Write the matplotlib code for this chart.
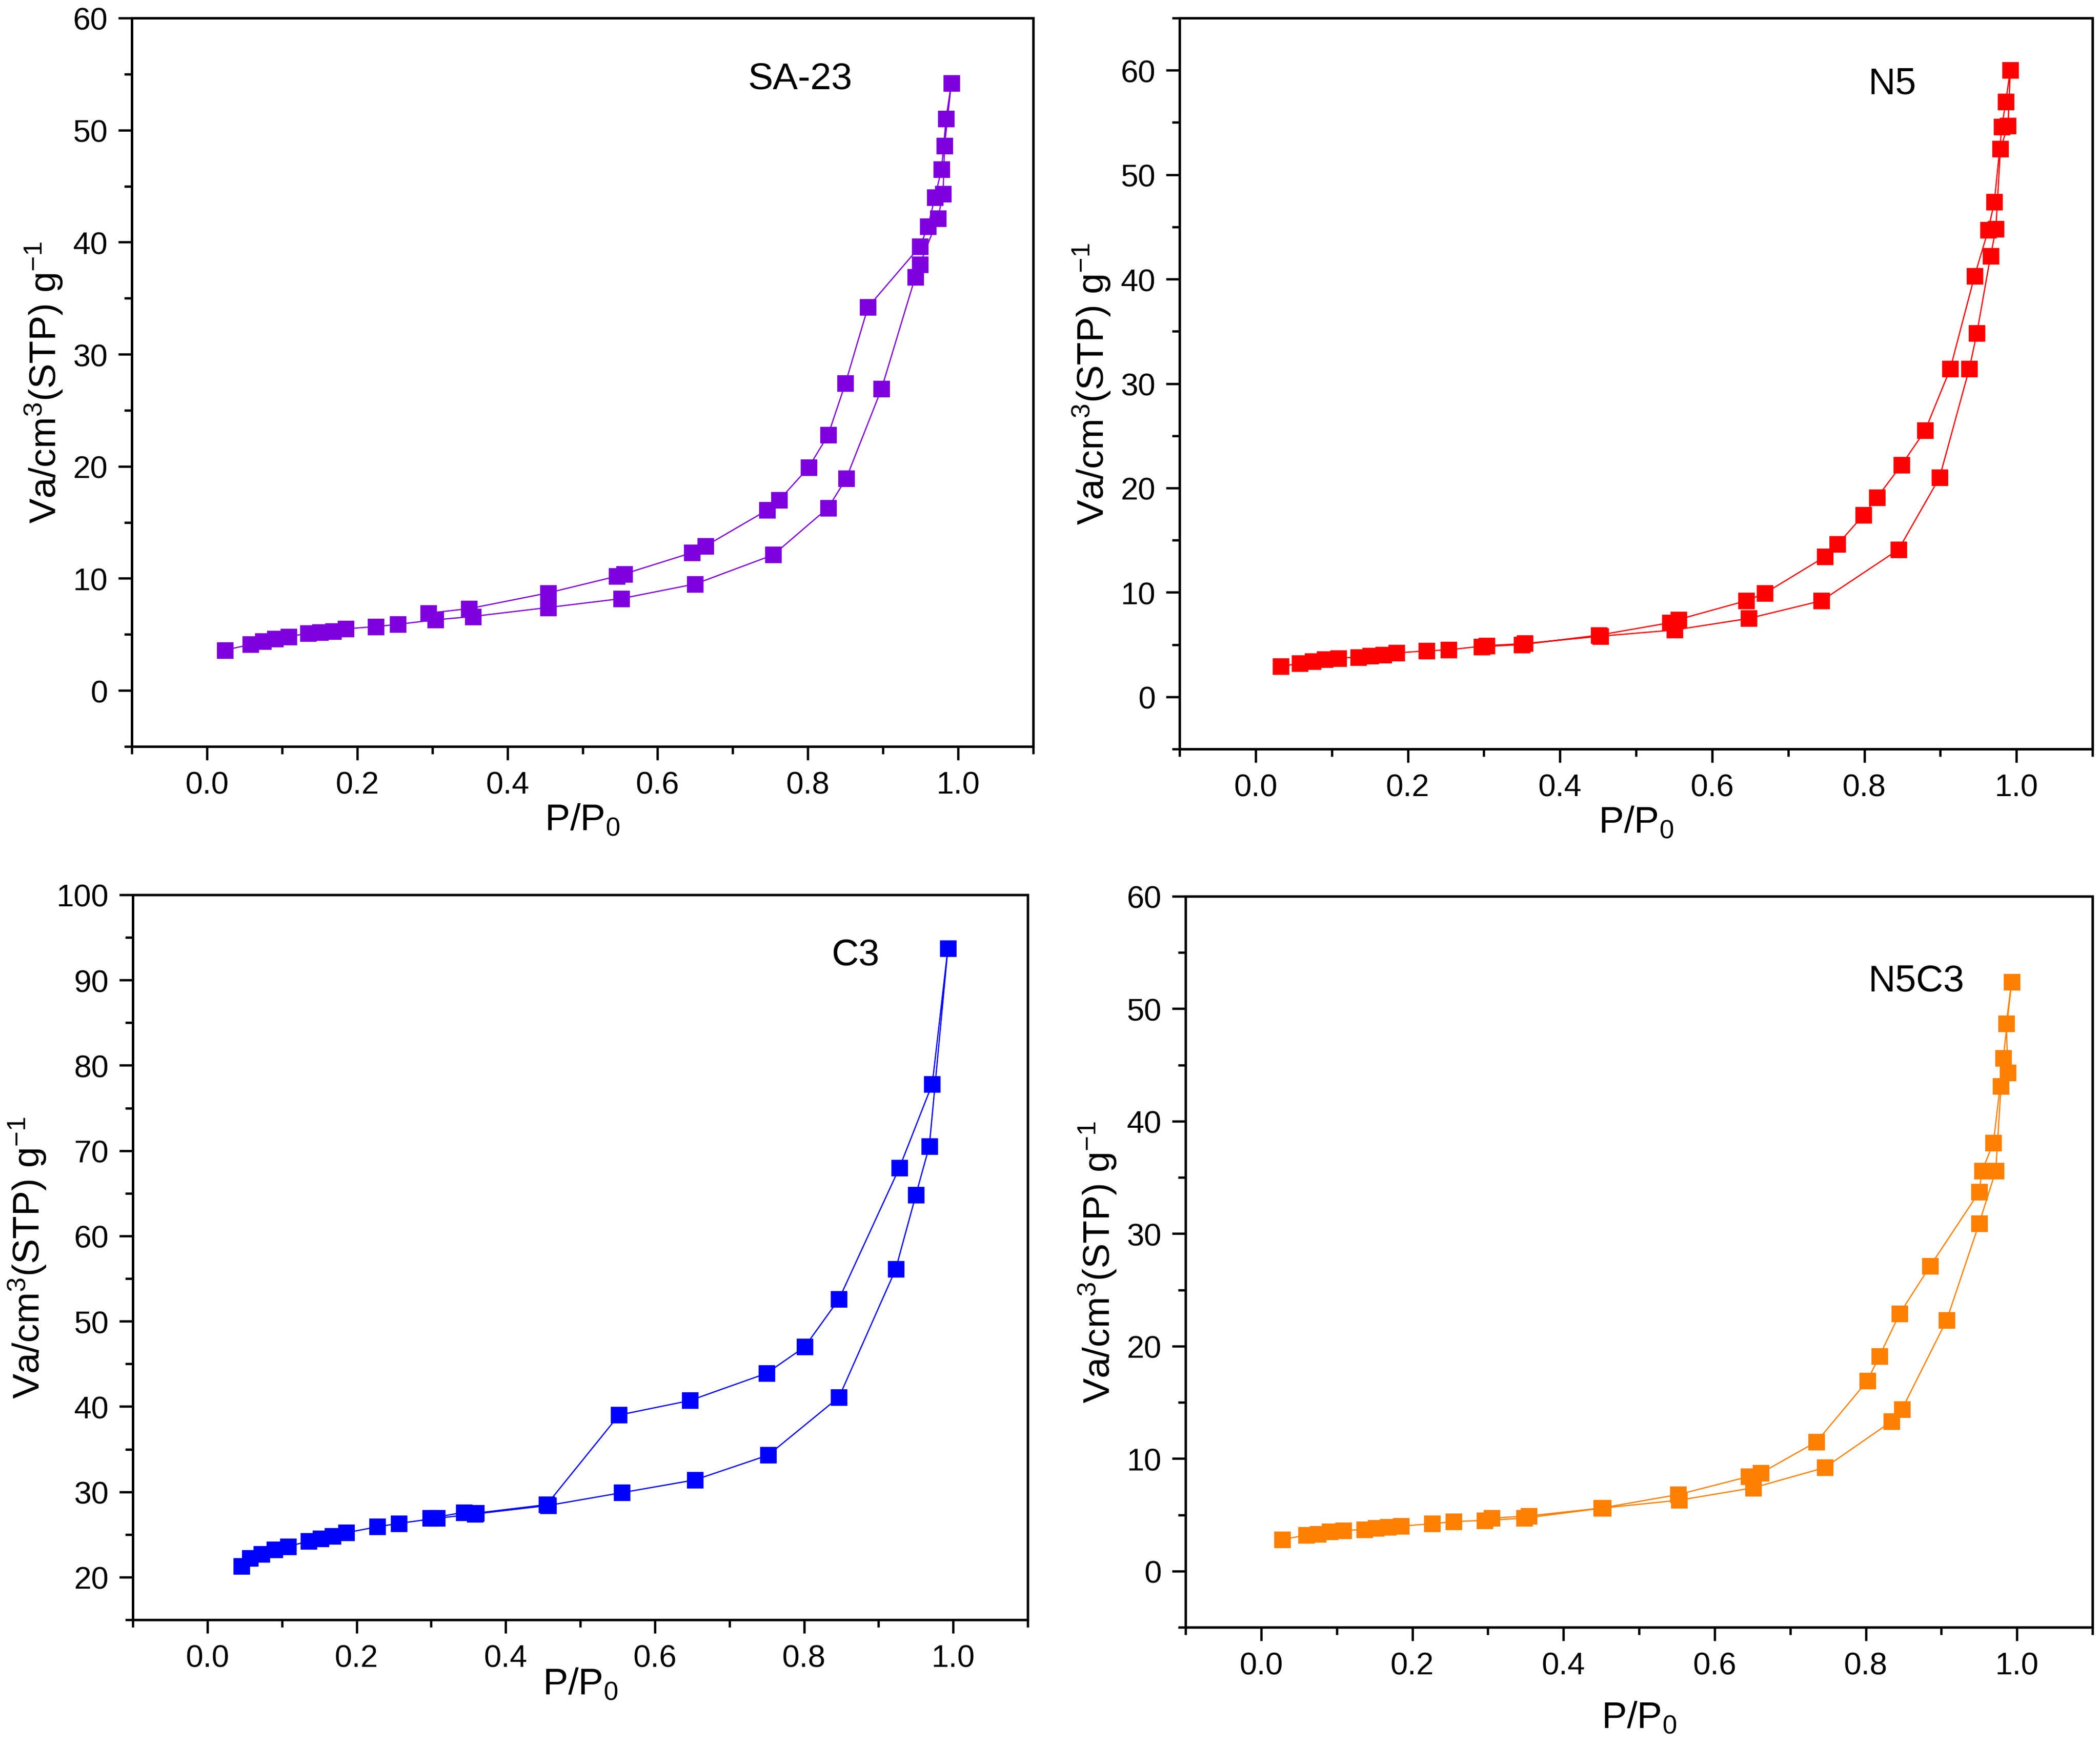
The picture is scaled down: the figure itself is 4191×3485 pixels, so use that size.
import matplotlib
matplotlib.use('Agg')
import matplotlib.pyplot as plt
from matplotlib.ticker import MultipleLocator, FormatStrFormatter

plt.rcParams['font.family'] = ['Liberation Sans', 'DejaVu Sans']
plt.rcParams['mathtext.fontset'] = 'custom'
plt.rcParams['mathtext.rm'] = 'Liberation Sans'
plt.rcParams['mathtext.it'] = 'Liberation Sans:italic'
plt.rcParams['mathtext.default'] = 'regular'

# SA-23: adsorption (up) then desorption (down)
sa_ads_x = [0.024, 0.058, 0.075, 0.091, 0.109, 0.135, 0.151, 0.168, 0.185, 0.225, 0.254, 0.304, 0.354,
            0.454, 0.552, 0.650, 0.754, 0.827, 0.851, 0.898, 0.943, 0.949, 0.973, 0.980, 0.982, 0.991]
sa_ads_y = [3.6, 4.1, 4.4, 4.6, 4.8, 5.1, 5.2, 5.3, 5.5, 5.7, 5.9, 6.3, 6.6,
            7.4, 8.2, 9.5, 12.1, 16.3, 18.9, 26.9, 36.9, 38.0, 42.1, 44.3, 48.6, 54.2]
sa_des_x = [0.984, 0.978, 0.969, 0.960, 0.949, 0.880, 0.850, 0.827, 0.801, 0.762, 0.746, 0.664, 0.646,
            0.556, 0.546, 0.454, 0.349, 0.295]
sa_des_y = [51.0, 46.5, 44.0, 41.4, 39.6, 34.2, 27.4, 22.8, 19.9, 17.0, 16.1, 12.9, 12.3,
            10.4, 10.2, 8.7, 7.3, 6.9]

# N5
n5_ads_x = [0.033, 0.058, 0.075, 0.091, 0.109, 0.135, 0.151, 0.168, 0.185, 0.225, 0.254, 0.304, 0.354,
            0.453, 0.551, 0.648, 0.744, 0.845, 0.899, 0.938, 0.948, 0.966, 0.973, 0.979, 0.989, 0.992]
n5_ads_y = [2.9, 3.2, 3.4, 3.6, 3.7, 3.8, 3.9, 4.0, 4.2, 4.4, 4.5, 4.9, 5.1,
            5.8, 6.4, 7.5, 9.2, 14.1, 21.0, 31.4, 34.8, 42.2, 44.8, 52.5, 54.7, 60.0]
n5_des_x = [0.986, 0.981, 0.971, 0.963, 0.945, 0.913, 0.880, 0.849, 0.817, 0.799, 0.765, 0.748, 0.669,
            0.645, 0.556, 0.545, 0.451, 0.350, 0.297]
n5_des_y = [57.0, 54.6, 47.4, 44.7, 40.3, 31.4, 25.5, 22.2, 19.1, 17.4, 14.6, 13.4, 9.9,
            9.2, 7.4, 7.1, 5.9, 5.0, 4.8]

# C3
c3_ads_x = [0.046, 0.057, 0.073, 0.090, 0.108, 0.136, 0.152, 0.168, 0.186, 0.228, 0.257, 0.308, 0.359,
            0.457, 0.556, 0.654, 0.752, 0.847, 0.923, 0.950, 0.968, 0.993]
c3_ads_y = [21.3, 22.2, 22.7, 23.2, 23.6, 24.2, 24.5, 24.8, 25.2, 25.9, 26.3, 26.9, 27.4,
            28.4, 29.9, 31.4, 34.3, 41.1, 56.1, 64.8, 70.5, 93.7]
c3_des_x = [0.972, 0.928, 0.847, 0.801, 0.750, 0.647, 0.552, 0.455, 0.360, 0.344, 0.299]
c3_des_y = [77.8, 68.0, 52.6, 47.0, 43.9, 40.7, 39.0, 28.5, 27.5, 27.6, 26.9]

# N5C3
n5c3_ads_x = [0.028, 0.060, 0.075, 0.091, 0.109, 0.137, 0.152, 0.168, 0.185, 0.226, 0.255, 0.296, 0.348,
              0.452, 0.553, 0.651, 0.746, 0.834, 0.848, 0.907, 0.950, 0.972, 0.979, 0.988, 0.986, 0.993]
n5c3_ads_y = [2.8, 3.2, 3.3, 3.5, 3.6, 3.7, 3.8, 3.9, 4.0, 4.2, 4.4, 4.5, 4.7,
              5.6, 6.3, 7.4, 9.2, 13.3, 14.4, 22.3, 30.9, 35.6, 43.1, 44.3, 48.7, 52.4]
n5c3_des_x = [0.982, 0.969, 0.954, 0.950, 0.885, 0.845, 0.818, 0.802, 0.735, 0.661, 0.645, 0.552,
              0.450, 0.354, 0.305]
n5c3_des_y = [45.6, 38.1, 35.6, 33.7, 27.1, 22.9, 19.1, 16.9, 11.5, 8.7, 8.4, 6.8,
              5.6, 4.9, 4.7]

W, H = 4191, 3486
fig = plt.figure(figsize=(W / 300, H / 300), dpi=300)

def add_axes(l, r, t, b):
    return fig.add_axes([l / W, 1 - b / H, (r - l) / W, (b - t) / H])

panels = [
    # name, ads, des, colour, ylim, box (l, r, t, b), text pos, xlabel pad
    ('SA-23', (sa_ads_x, sa_ads_y), (sa_des_x, sa_des_y), '#7F00DF', (-5, 60),
     (263, 2062, 37, 1491), (0.790, 53.7), 1),
    ('N5', (n5_ads_x, n5_ads_y), (n5_des_x, n5_des_y), '#FF0000', (-5, 65),
     (2354, 4176, 37, 1496), (0.837, 57.8), 1),
    ('C3', (c3_ads_x, c3_ads_y), (c3_des_x, c3_des_y), '#0000FF', (15, 100),
     (265, 2051, 1787, 3234), (0.869, 91.8), -3.5),
    ('N5C3', (n5c3_ads_x, n5c3_ads_y), (n5c3_des_x, n5c3_des_y), '#FF8000', (-5, 60),
     (2366, 4176, 1790, 3249), (0.867, 51.6), 9),
]

for name, ads, des, col, ylim, box, tpos, xpad in panels:
    ax = add_axes(*box)
    xs = list(ads[0]) + list(des[0])
    ys = list(ads[1]) + list(des[1])
    ax.plot(xs, ys, '-', color=col, lw=0.6, marker='s', ms=7.5, mew=0.3, mec=col, mfc=col)
    ax.set_xlim(-0.1, 1.1)
    ax.set_ylim(*ylim)
    ax.xaxis.set_major_locator(MultipleLocator(0.2))
    ax.xaxis.set_minor_locator(MultipleLocator(0.1))
    ax.xaxis.set_major_formatter(FormatStrFormatter('%.1f'))
    ax.yaxis.set_major_locator(MultipleLocator(10))
    ax.yaxis.set_minor_locator(MultipleLocator(5))
    ax.tick_params(which='both', direction='out', top=False, right=False, width=1.1, labelsize=15)
    ax.tick_params(which='major', length=6.5, pad=5)
    ax.tick_params(which='minor', length=3.5)
    for s in ax.spines.values():
        s.set_linewidth(1.2)
    ax.set_xlabel(r'P/P$_0$', fontsize=18, labelpad=xpad)
    ax.set_ylabel(r'Va/cm$^3$(STP) g$^{-1}$', fontsize=18, labelpad=4)
    ax.text(tpos[0], tpos[1], name, fontsize=18, ha='center', va='baseline')

fig.savefig('out.png', dpi=300)
